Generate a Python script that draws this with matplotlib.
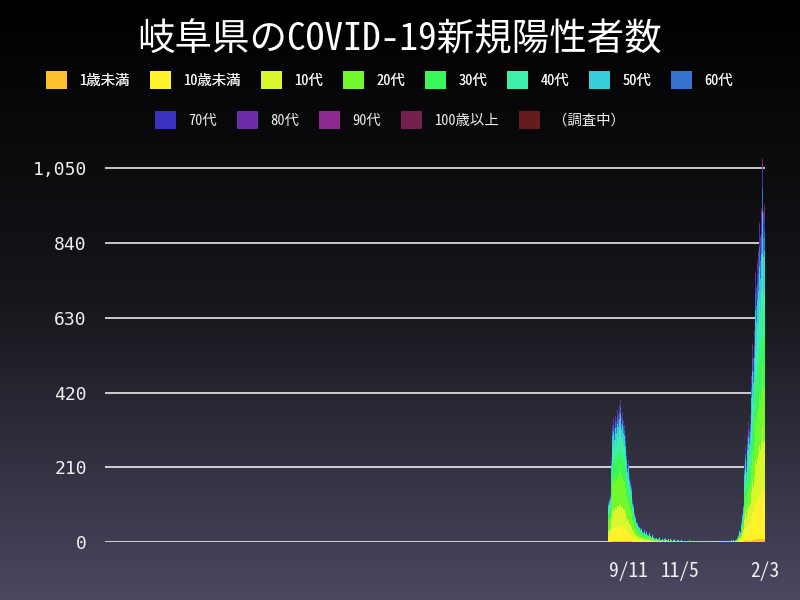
import numpy as np
import pandas as pd
import matplotlib
matplotlib.use('Agg')
import matplotlib.pyplot as plt
import matplotlib.dates as mdates
from matplotlib.patches import Patch
from matplotlib.colors import LinearSegmentedColormap

plt.rcParams['font.family'] = ['Noto Sans Mono CJK JP', 'Noto Sans CJK JP', 'DejaVu Sans']

# daily new cases, first day 2021-08-20
start_date = '2021-08-20'
daily_total = [
    115, 125, 135, 130, 240, 330, 345, 320, 355, 340,
    370, 360, 385, 400, 350, 365, 340, 330, 300, 310,
    255, 220, 230, 190, 175, 160, 120, 110, 85, 75,
    60, 55, 48, 45, 40, 38, 42, 30, 28, 35,
    25, 30, 22, 20, 28, 18, 15, 22, 14, 12,
    18, 10, 12, 9, 8, 14, 7, 6, 10, 5,
    8, 12, 6, 5, 9, 4, 7, 10, 5, 3,
    6, 8, 4, 3, 7, 5, 2, 4, 6, 3,
    2, 5, 3, 4, 2, 1, 3, 5, 2, 1,
    2, 0, 1, 3, 0, 2, 1, 0, 4, 1,
    0, 1, 2, 0, 1, 0, 3, 1, 0, 2,
    1, 0, 0, 2, 1, 0, 1, 3, 0, 1,
    0, 2, 1, 0, 4, 1, 0, 2, 3, 1,
    3, 2, 5, 4, 6, 3, 5, 8, 12, 20,
    35, 30, 60, 85, 75, 110, 220, 270, 230, 300,
    340, 320, 360, 470, 560, 520, 600, 760, 720, 790,
    870, 820, 900, 860, 940, 1080, 930, 950,
]

age_groups = ['1歳未満', '10歳未満', '10代', '20代', '30代', '40代', '50代',
              '60代', '70代', '80代', '90代', '100歳以上', '（調査中）']
age_colors = ['#fdbf2b', '#fff22c', '#d9f72c', '#72f92e', '#3af658', '#3cefaa',
              '#37cdd9', '#3673d1', '#3a31be', '#6e2ba7', '#8d2a8d', '#73204f', '#651c1f']

# age shares estimated from the colours of each wave
share_wave5 = [0.01, 0.11, 0.15, 0.24, 0.17, 0.13, 0.09, 0.05, 0.02, 0.02, 0.01, 0.0, 0.0]
share_wave6 = [0.01, 0.14, 0.15, 0.16, 0.15, 0.14, 0.11, 0.06, 0.04, 0.02, 0.01, 0.005, 0.005]
wave6_start = '2021-12-01'

axis_start = '2020-03-01'
tick_dates = ['2021-09-11', '2021-11-05', '2022-02-03']
tick_labels = ['9/11', '11/5', '2/3']
y_ticks = [0, 210, 420, 630, 840, 1050]

dates = pd.date_range(start_date, periods=len(daily_total), freq='D')
x = mdates.date2num(dates)
totals = np.array(daily_total, dtype=float)
shares = np.where((dates >= pd.Timestamp(wave6_start))[:, None],
                  np.array(share_wave6)[None, :], np.array(share_wave5)[None, :])
segments = totals[:, None] * shares

fig = plt.figure(figsize=(8, 6), dpi=100)

# background gradient
bg = fig.add_axes([0, 0, 1, 1], zorder=-1)
grad = np.linspace(0, 1, 256)[:, None]
bg_cmap = LinearSegmentedColormap.from_list('bg', ['#000000', '#16161b', '#4a4761'])
bg.imshow(grad, aspect='auto', cmap=bg_cmap, extent=[0, 1, 0, 1], origin='upper')
bg.axis('off')

ax = fig.add_axes([105 / 800, 58 / 600, 660 / 800, 392 / 600])
ax.patch.set_alpha(0)

bottom = np.zeros(len(x))
for i, (name, col) in enumerate(zip(age_groups, age_colors)):
    ax.bar(x, segments[:, i], width=1.0, bottom=bottom, color=col, linewidth=0)
    bottom += segments[:, i]

ax.set_ylim(0, 1102)
ax.set_xlim(mdates.date2num(pd.Timestamp(axis_start)) - 0.5, x[-1] + 0.5)
ax.set_yticks(y_ticks)
ax.set_yticklabels([f'{v:,}' for v in y_ticks], fontfamily=['DejaVu Sans Mono'])
ax.set_xticks(mdates.date2num(pd.to_datetime(tick_dates)))
ax.set_xticklabels(tick_labels)
ax.yaxis.grid(True, color='white', linewidth=1.2, alpha=0.9)
ax.set_axisbelow(True)
ax.tick_params(axis='y', length=0, pad=13, labelsize=13, colors='#f0f0f0')
ax.tick_params(axis='x', length=0, pad=14, labelsize=14, colors='#f0f0f0')
for s in ax.spines.values():
    s.set_visible(False)

fig.text(0.5, 1 - 40 / 600, '岐阜県のCOVID-19新規陽性者数', ha='center', va='center',
         color='white', fontsize=27)

handles = [Patch(facecolor=c, edgecolor='none') for c in age_colors]
legend_kw = dict(loc='center', frameon=False, fontsize=10.4, labelcolor='#f0f0f0',
                 handlelength=1.45, handleheight=1.45, handletextpad=0.85, columnspacing=1.4)
leg1 = fig.legend(handles[:8], age_groups[:8], ncol=8,
                  bbox_to_anchor=(0.487, 1 - 80 / 600), **legend_kw)
fig.add_artist(leg1)
fig.legend(handles[8:], age_groups[8:], ncol=5,
           bbox_to_anchor=(0.487, 1 - 120 / 600), **legend_kw)

fig.savefig('out.png', dpi=100)
